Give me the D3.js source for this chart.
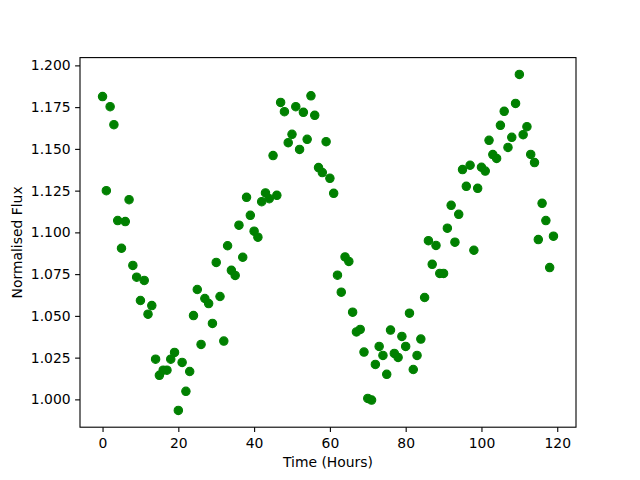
<!DOCTYPE html>
<html>
<head>
<meta charset="utf-8">
<script src="https://cdn.jsdelivr.net/npm/d3@7"></script>
<style>
  html, body { margin: 0; padding: 0; background: #fff; }
  svg text { font-family: "DejaVu Sans", sans-serif; }
</style>
</head>
<body>
<svg id="chart" width="640" height="480"></svg>
<script>
// ---- data ----
const hours = [
  0,1,2,3,4,5,6,7,8,9,10,11,12,13,14,15,16,17,18,19,
  20,21,22,23,24,25,26,27,28,29,30,31,32,33,34,35,36,37,38,39,
  40,41,42,43,44,45,46,47,48,49,50,51,52,53,54,55,56,57,58,59,
  60,61,62,63,64,65,66,67,68,69,70,71,72,73,74,75,76,77,78,79,
  80,81,82,83,84,85,86,87,88,89,90,91,92,93,94,95,96,97,98,99,
  100,101,102,103,104,105,106,107,108,109,110,111,112,113,114,115,116,117,118,119
];
const flux = [
  1.1813,1.1250,1.1753,1.1645,1.1071,1.0905,1.1065,1.1196,1.0802,1.0732,
  1.0592,1.0712,1.0510,1.0562,1.0241,1.0144,1.0175,1.0175,1.0241,1.0281,
  0.9934,1.0221,1.0048,1.0167,1.0502,1.0658,1.0329,1.0604,1.0574,1.0455,
  1.0820,1.0616,1.0349,1.0920,1.0773,1.0742,1.1043,1.0851,1.1210,1.1102,
  1.1007,1.0971,1.1184,1.1236,1.1202,1.1460,1.1222,1.1778,1.1723,1.1537,
  1.1587,1.1753,1.1497,1.1719,1.1557,1.1818,1.1701,1.1388,1.1358,1.1543,
  1.1324,1.1234,1.0744,1.0642,1.0853,1.0826,1.0522,1.0404,1.0419,1.0283,
  1.0006,0.9996,1.0209,1.0317,1.0263,1.0150,1.0415,1.0275,1.0251,1.0377,
  1.0317,1.0516,1.0179,1.0263,1.0361,1.0610,1.0950,1.0809,1.0922,1.0754,
  1.0754,1.1025,1.1162,1.0941,1.1108,1.1376,1.1276,1.1402,1.0893,1.1264,
  1.1390,1.1367,1.1551,1.1466,1.1443,1.1641,1.1725,1.1509,1.1569,1.1772,
  1.1946,1.1585,1.1633,1.1467,1.1418,1.0957,1.1174,1.1071,1.0789,1.0977
];
const xTicks = [0, 20, 40, 60, 80, 100, 120];
const yTicks = [1.000, 1.025, 1.050, 1.075, 1.100, 1.125, 1.150, 1.175, 1.200];
const xLabel = "Time (Hours)";
const yLabel = "Normalised Flux";

// ---- layout ----
const L = 80, R = 576, T = 57.6, B = 427.2;
const svg = d3.select("#chart");

function padded(ext) {
  const m = (ext[1] - ext[0]) * 0.05;
  return [ext[0] - m, ext[1] + m];
}
const x = d3.scaleLinear().domain(padded(d3.extent(hours))).range([L, R]);
const y = d3.scaleLinear().domain(padded(d3.extent(flux))).range([B, T]);

const pts = hours.map((h, i) => ({ h, v: flux[i] }));

// points
svg.append("g")
  .selectAll("circle")
  .data(pts)
  .join("circle")
  .attr("cx", d => x(d.h))
  .attr("cy", d => y(d.v))
  .attr("r", 4.2)
  .attr("fill", "#008000")
  .attr("stroke", "#008000")
  .attr("stroke-width", 1.1);

// axes
const fontSize = "13.9px";
const xAxis = svg.append("g")
  .attr("transform", `translate(0,${B})`)
  .call(d3.axisBottom(x).tickValues(xTicks).tickFormat(d3.format("d"))
    .tickSize(4.9).tickPadding(6).tickSizeOuter(0));
const yAxis = svg.append("g")
  .attr("transform", `translate(${L},0)`)
  .call(d3.axisLeft(y).tickValues(yTicks).tickFormat(d3.format(".3f"))
    .tickSize(4.9).tickPadding(4.5).tickSizeOuter(0));

[xAxis, yAxis].forEach(g => {
  g.select(".domain").remove();
  g.selectAll("line").attr("stroke", "#000").attr("stroke-width", 1.1);
  g.selectAll("text").attr("fill", "#000").style("font-size", fontSize)
    .style("font-family", "'DejaVu Sans', sans-serif");
});

// frame
svg.append("rect")
  .attr("x", L).attr("y", T)
  .attr("width", R - L).attr("height", B - T)
  .attr("fill", "none")
  .attr("stroke", "#000")
  .attr("stroke-width", 1.1);

// labels
svg.append("text")
  .attr("x", (L + R) / 2).attr("y", 467)
  .attr("text-anchor", "middle")
  .style("font-size", fontSize)
  .text(xLabel);

svg.append("text")
  .attr("transform", `translate(21.5,${(T + B) / 2}) rotate(-90)`)
  .attr("text-anchor", "middle")
  .style("font-size", fontSize)
  .text(yLabel);
</script>
</body>
</html>
